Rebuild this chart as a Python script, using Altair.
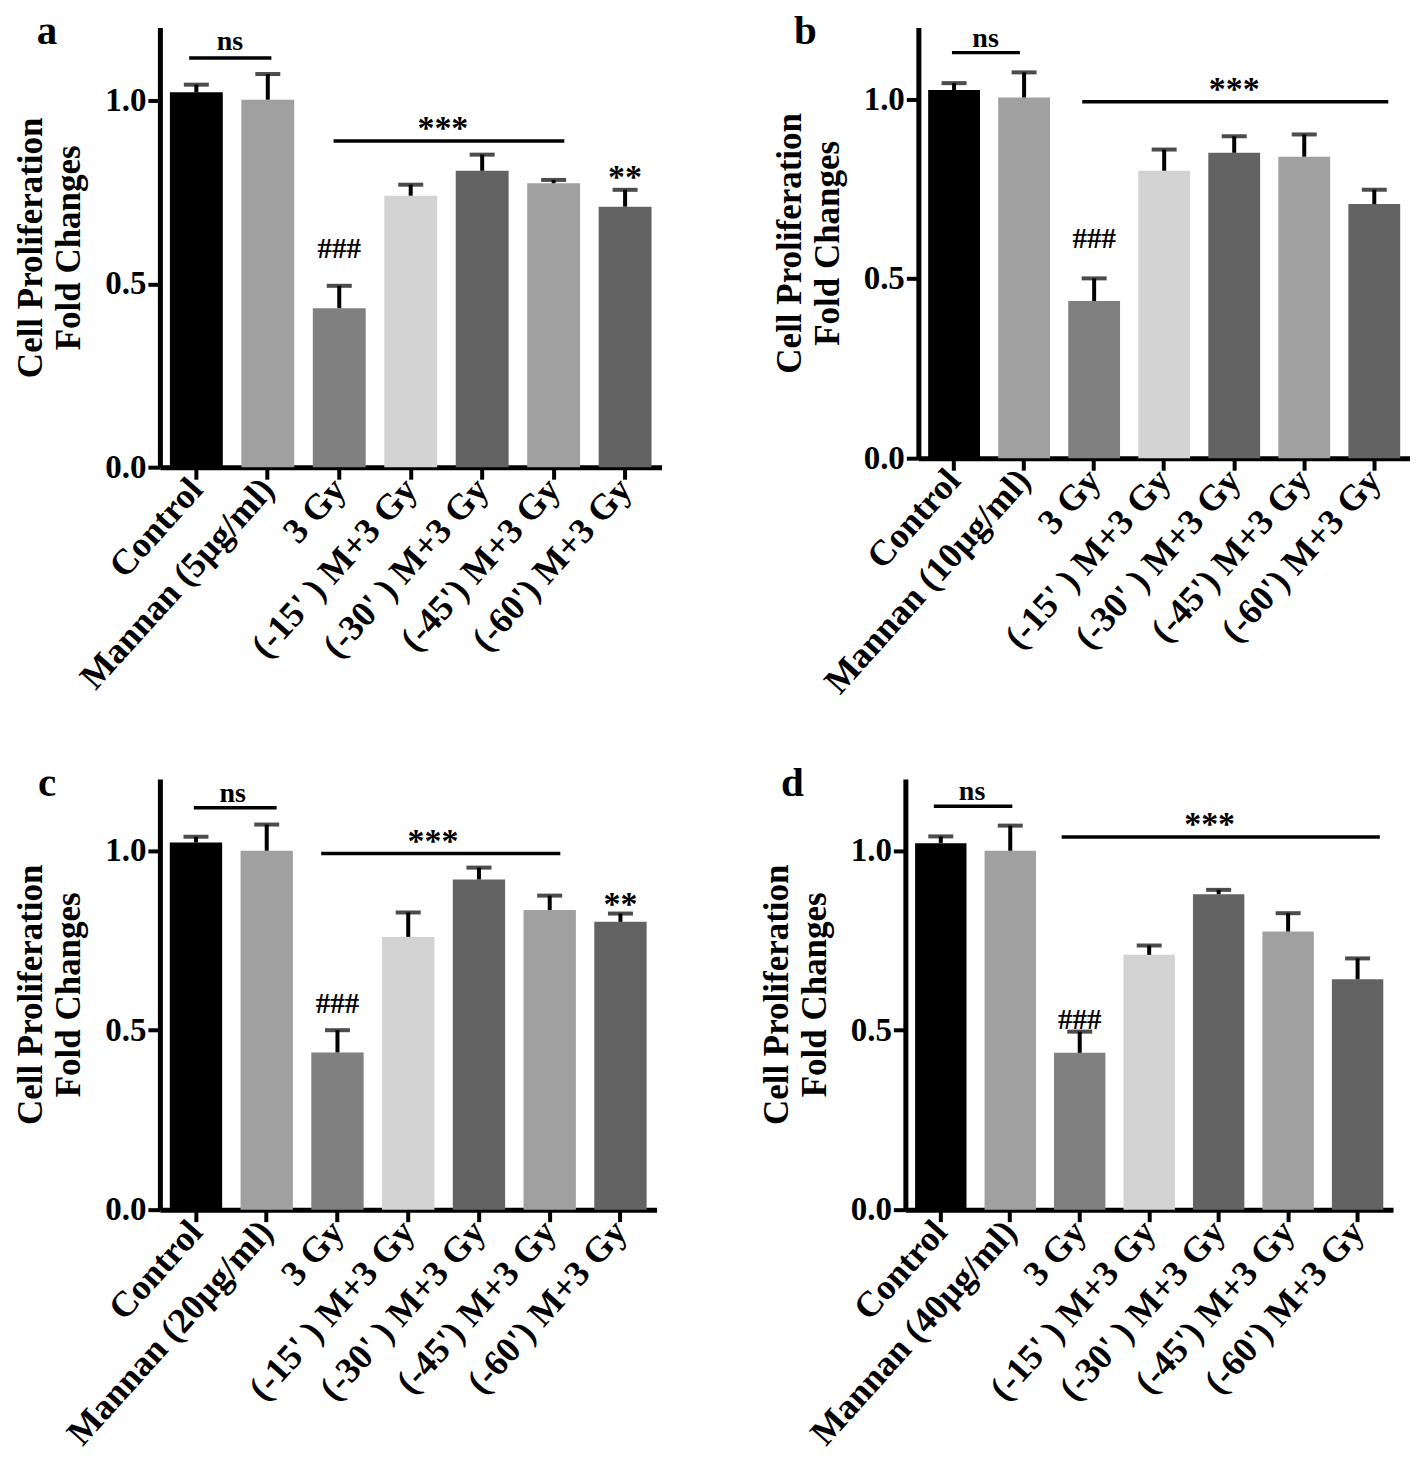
import altair as alt
import pandas as pd

FONT = "Liberation Serif"

# ---------------- data ----------------
base_groups = ["Control", "MANNAN", "3 Gy", "(-15' ) M+3 Gy", "(-30' ) M+3 Gy",
               "(-45') M+3 Gy", "(-60') M+3 Gy"]
mannan_a = "Mannan (5µg/ml)"
mannan_b = "Mannan (10µg/ml)"
mannan_c = "Mannan (20µg/ml)"
mannan_d = "Mannan (40µg/ml)"

bar_colors = ["#000000", "#a0a0a0", "#808080", "#d3d3d3", "#636363", "#a0a0a0", "#636363"]

values_a = [1.023, 1.003, 0.434, 0.741, 0.809, 0.775, 0.711]
errors_a = [0.021, 0.070, 0.061, 0.030, 0.044, 0.009, 0.046]
values_b = [1.026, 1.005, 0.438, 0.801, 0.851, 0.840, 0.708]
errors_b = [0.019, 0.070, 0.063, 0.059, 0.046, 0.062, 0.040]
values_c = [1.023, 1.000, 0.438, 0.760, 0.920, 0.835, 0.802]
errors_c = [0.016, 0.073, 0.062, 0.068, 0.033, 0.040, 0.023]
values_d = [1.021, 1.000, 0.437, 0.710, 0.879, 0.775, 0.642]
errors_d = [0.019, 0.070, 0.059, 0.026, 0.012, 0.051, 0.058]

# significance lines: (start index, end index, y)
lines_a = [(-0.10, 1.05, 1.117), (1.92, 5.15, 0.890)]
lines_b = [(-0.03, 0.94, 1.130), (1.83, 6.20, 0.993)]
lines_c = [(-0.03, 1.14, 1.120), (1.77, 5.15, 0.992)]
lines_d = [(-0.10, 1.03, 1.124), (1.74, 6.32, 1.038)]

# significance labels: (index, baseline y, text)
labels_a = [(0.47, 1.138, "ns"), (3.45, 0.895, "***"), (6.0, 0.762, "**"), (2.0, 0.570, "###")]
labels_b = [(0.45, 1.146, "ns"), (4.0, 0.998, "***"), (2.0, 0.587, "###")]
labels_c = [(0.52, 1.137, "ns"), (3.35, 0.997, "***"), (6.0, 0.822, "**"), (2.0, 0.547, "###")]
labels_d = [(0.45, 1.140, "ns"), (3.87, 1.043, "***"), (2.0, 0.502, "###")]

label_sizes = {"ns": 28, "***": 34, "**": 34, "###": 29}

Y_TICKS = [0.0, 0.5, 1.0]
Y_DOMAIN = [0, 1.2]
P_INNER = 0.26
P_OUTER = 0.14


def panel(letter, mannan, values, errors, lines, labels, width, height):
    cats = [mannan if g == "MANNAN" else g for g in base_groups]
    df = pd.DataFrame({"group": cats, "value": values, "err": errors, "col": bar_colors})
    df["upper"] = df["value"] + df["err"]
    n = len(cats)
    u0 = -(P_OUTER + (1 - P_INNER) / 2)
    u1 = n - 0.5 - P_INNER / 2 + P_OUTER

    xband = alt.X(
        "group:N", sort=cats, title=None,
        scale=alt.Scale(paddingInner=P_INNER, paddingOuter=P_OUTER),
        axis=alt.Axis(labelAngle=-48, labelAlign="right", labelBaseline="middle",
                      labelFont=FONT, labelFontWeight="bold", labelFontSize=36,
                      labelColor="black", domainColor="black", domainWidth=5,
                      tickColor="black", tickWidth=4, tickSize=12, labelPadding=4,
                      labelLimit=500),
    )
    yscale = alt.Scale(domain=Y_DOMAIN, nice=False)
    yq = alt.Y(
        "value:Q", scale=yscale,
        axis=alt.Axis(values=Y_TICKS, format=".1f", grid=False,
                      title=["Cell Proliferation", "Fold Changes"],
                      titleFont=FONT, titleFontWeight="bold", titleFontSize=35,
                      titleLineHeight=38, titleColor="black", titlePadding=18,
                      labelFont=FONT, labelFontWeight="bold", labelFontSize=33,
                      labelColor="black", domainColor="black", domainWidth=5,
                      tickColor="black", tickWidth=4, tickSize=12, labelPadding=2),
    )

    base = alt.Chart(df)
    bars = base.mark_bar().encode(
        x=xband, y=yq, color=alt.Color("col:N", scale=None, legend=None))
    err = base.mark_rule(color="black", strokeWidth=4).encode(
        x=alt.X("group:N", sort=cats), y="value:Q", y2="upper:Q")
    cap = base.mark_tick(color="black", thickness=4, size=25).encode(
        x=alt.X("group:N", sort=cats), y="upper:Q")
    main = alt.layer(bars, err, cap)

    xq = alt.Scale(domain=[u0, u1], nice=False, zero=False)
    ldf = pd.DataFrame(lines, columns=["x0", "x1", "y"])
    sig_lines = alt.Chart(ldf).mark_rule(color="black", strokeWidth=3.5).encode(
        x=alt.X("x0:Q", scale=xq, axis=None), x2="x1:Q",
        y=alt.Y("y:Q", scale=yscale))
    tdf = pd.DataFrame(labels, columns=["x", "y", "t"])
    tdf["fs"] = [label_sizes[t] for t in tdf["t"]]
    sig_text = alt.Chart(tdf).mark_text(font=FONT, fontWeight="bold", color="black",
                                        baseline="alphabetic", align="center").encode(
        x=alt.X("x:Q", scale=xq, axis=None),
        y=alt.Y("y:Q", scale=yscale),
        text="t:N", size=alt.Size("fs:Q", scale=None, legend=None))
    annot = alt.layer(sig_lines, sig_text)

    ltr = alt.Chart(pd.DataFrame({"t": [letter]})).mark_text(
        font=FONT, fontWeight="bold", fontSize=41, color="black",
        align="center", baseline="alphabetic").encode(
        text="t:N", x=alt.value(-113), y=alt.value(17))

    return alt.layer(main, annot, ltr).resolve_scale(
        x="independent").properties(width=width, height=height)


pa = panel("a", mannan_a, values_a, errors_a, lines_a, labels_a, 502, 440)
pb = panel("b", mannan_b, values_b, errors_b, lines_b, labels_b, 492, 431)
pc = panel("c", mannan_c, values_c, errors_c, lines_c, labels_c, 497, 431)
pd_ = panel("d", mannan_d, values_d, errors_d, lines_d, labels_d, 488, 431)

row1 = alt.hconcat(pa, pb, spacing=110)
row2 = alt.hconcat(pc, pd_, spacing=102)

chart = alt.vconcat(row1, row2, spacing=63).properties(
    padding={"left": 5, "top": 3, "right": 0, "bottom": 0},
    background="white",
).configure_view(strokeWidth=0)

chart.save("out.html", embed_options={"renderer": "svg", "actions": False})
